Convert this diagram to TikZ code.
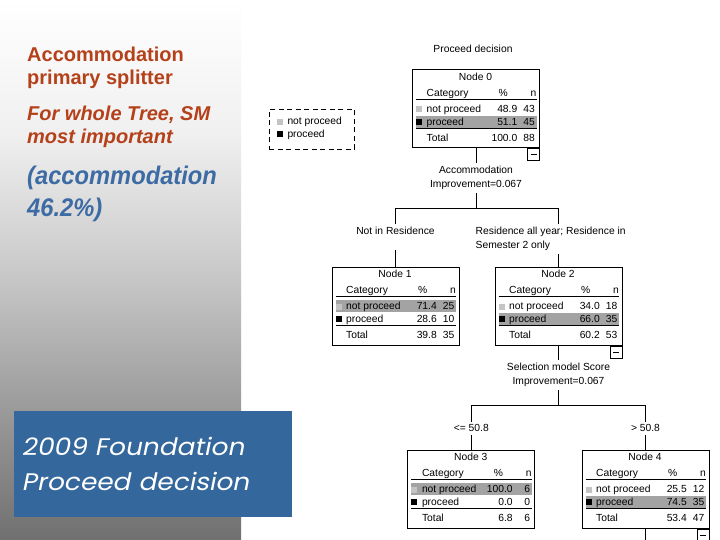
\documentclass[tikz,border=0pt]{standalone}
\usepackage{fontspec}
\setmainfont{Liberation Sans}
\newfontfamily\condsans[FakeStretch=0.93]{Liberation Sans}
\newfontfamily\gothic[FakeSlant=0.2, FakeStretch=1.1]{Poppins}
\usepackage{tikz}
\usetikzlibrary{calc,positioning}
\definecolor{SlideRust}{HTML}{B4411A}
\definecolor{SlideBlue}{HTML}{3D6BA3}
\definecolor{TitleBlue}{HTML}{34679B}
\definecolor{RowGray}{HTML}{A3A3A3}
\definecolor{KeyGray}{HTML}{C4C4C4}
\pgfdeclareverticalshading{panelfade}{100bp}{color(0bp)=(black!56); color(25bp)=(black!56); color(37.5bp)=(black!39); color(50bp)=(black!21); color(62.5bp)=(black!6); color(75bp)=(white); color(100bp)=(white)}
\newcommand{\treefont}{\fontsize{10.3}{14.3}\selectfont}
\tikzset{
  tree/box/.style={draw, line width=1pt, minimum width=127pt, minimum height=78pt, inner sep=0pt},
  tree/text/.style={font=\treefont, inner sep=0pt},
  tree/split/.style={tree/text, align=center, inner ysep=3pt, anchor=north},
  tree/branch/.style={tree/text, align=left, inner ysep=2.5pt},
  tree/line/.style={line width=0.9pt},
  tree/rule/.style={line width=0.8pt},
  tree/minus/.style={draw, line width=0.8pt, minimum width=12pt, minimum height=12pt, inner sep=0pt, anchor=north east,
    path picture={\draw[line width=0.8pt] ([xshift=3pt]path picture bounding box.west) -- ([xshift=-3pt]path picture bounding box.east);}},
  tree/key/.style={minimum size=6pt, inner sep=0pt},
  tree/legend/.style={draw, line width=1.1pt, dash pattern=on 5pt off 3.5pt, minimum width=85pt, minimum height=40pt, inner sep=0pt},
  slide/point/.style={anchor=north west, align=left, inner sep=0pt, text=SlideRust, font=\fontsize{20}{23}\selectfont\bfseries},
  slide/aside/.style={slide/point, font=\fontsize{20}{22.7}\selectfont\bfseries\itshape},
  slide/stat/.style={anchor=north west, align=left, inner sep=0pt, text=SlideBlue, font=\condsans\fontsize{25.5}{31.5}\selectfont\bfseries\itshape},
  slide/title/.style={fill=TitleBlue, text=white, anchor=north west, minimum width=278pt, minimum height=105.7pt,
    inner xsep=7.5pt, text width=263pt, align=left, font=\gothic\fontsize{24}{35}\selectfont}
}
% one tree node: name, centre, title, not proceed %/n, proceed %/n, total %/n
\newcommand{\catbox}[9]{%
  \node[tree/box] (#1) at (#2) {};
  \pgfmathsetmacro{\rowtop}{#4>50 ? 33 : 46.5}%
  \fill[RowGray] ($(#1.north west)+(4,\rowtop)$) rectangle ++(120.5,12.5);
  \node[tree/text, anchor=base] (#1 title) at ($(#1.north west)+(63.5,11)$) {#3};
  \node[tree/text, anchor=base west] (#1 cat) at ($(#1.north west)+(14.5,27)$) {Category};
  \node[tree/text, anchor=base east] (#1 pct) at ($(#1.north west)+(96,27)$) {\%};
  \node[tree/text, anchor=base east] (#1 n) at ($(#1.north west)+(124.5,27)$) {n};
  \draw[tree/rule] ($(#1.north west)+(4,30)$) -- ++(120.5,0);
  \node[tree/key, fill=KeyGray] (#1 np key) at ($(#1.north west)+(7,40)$) {};
  \node[tree/text, anchor=base west] (#1 np) at ($(#1.north west)+(14.5,43)$) {not proceed};
  \node[tree/text, anchor=base east] (#1 np pct) at ($(#1.north west)+(105.5,43)$) {#4};
  \node[tree/text, anchor=base east] (#1 np n) at ($(#1.north west)+(123,43)$) {#5};
  \node[tree/key, fill=black] (#1 p key) at ($(#1.north west)+(7,52.5)$) {};
  \node[tree/text, anchor=base west] (#1 p) at ($(#1.north west)+(14.5,56)$) {proceed};
  \node[tree/text, anchor=base east] (#1 p pct) at ($(#1.north west)+(105.5,56)$) {#6};
  \node[tree/text, anchor=base east] (#1 p n) at ($(#1.north west)+(123,56)$) {#7};
  \draw[tree/rule, line width=1.2pt] ($(#1.north west)+(4,59)$) -- ++(120.5,0);
  \node[tree/text, anchor=base west] (#1 tot) at ($(#1.north west)+(14.5,72)$) {Total};
  \node[tree/text, anchor=base east] (#1 tot pct) at ($(#1.north west)+(105.5,72)$) {#8};
  \node[tree/text, anchor=base east] (#1 tot n) at ($(#1.north west)+(123,72)$) {#9};
}

\begin{document}
\begin{tikzpicture}[x=1pt, y=-1pt]
  \useasboundingbox (0,0) rectangle (720,540);
  \fill[white] (0,0) rectangle (720,540);
  \shade[shading=panelfade] (0,0) rectangle (241,540);

  % slide text
  \node[slide/point] (splitter) at (27,46.5) {Accommodation\\primary splitter};
  \node[slide/aside] (whole) at (27,106) {For whole Tree, SM\\most important};
  \node[slide/stat] (share) at (27,166) {(accommodation\\46.2\%)};
  \node[slide/title] (title) at (14,411) {2009 Foundation\\Proceed decision};

  % legend
  \node[tree/legend] (legend) at (311.8,129.3) {};
  \node[tree/key, fill=KeyGray] (key np) at (280,122) {};
  \node[tree/text, anchor=base west] (key np label) at (287.3,125) {not proceed};
  \node[tree/key, fill=black] (key p) at (280,134.2) {};
  \node[tree/text, anchor=base west] (key p label) at (287.3,137.7) {proceed};

  % tree
  \node[tree/text, anchor=base] (tree title) at (473,52.7) {Proceed decision};
  \catbox{n0}{476,109}{Node 0}{48.9}{43}{51.1}{45}{100.0}{88}
  \catbox{n1}{395.5,306}{Node 1}{71.4}{25}{28.6}{10}{39.8}{35}
  \catbox{n2}{558.5,306}{Node 2}{34.0}{18}{66.0}{35}{60.2}{53}
  \catbox{n3}{471.3,489}{Node 3}{100.0}{6}{0.0}{0}{6.8}{6}
  \catbox{n4}{645.5,489}{Node 4}{25.5}{12}{74.5}{35}{53.4}{47}
  \node[tree/minus] (n0 minus) at (n0.south east) {};
  \node[tree/minus] (n2 minus) at (n2.south east) {};
  \node[tree/minus] (n4 minus) at (n4.south east) {};

  \node[tree/split] (sp0) at (476,163) {Accommodation\\Improvement=0.067};
  \coordinate (j0) at (476,208);
  \draw[tree/line] (n0) -- (sp0);
  \draw[tree/line] (sp0) -- (j0);
  \node[tree/branch, anchor=base, text depth=13pt] (l1) at (395.5,234.5) {Not in Residence};
  \node[tree/branch, anchor=north west] (l2) at (475.5,224.5) {Residence all year; Residence in\\Semester 2 only};
  \draw[tree/line] (l1) -- (n1 |- j0) -- (n2 |- j0) -- (n2 |- l2.north);
  \draw[tree/line] (l1) -- (n1);
  \draw[tree/line] (n2 |- l2.south) -- (n2);

  \node[tree/split] (sp1) at (558.5,360) {Selection model Score\\Improvement=0.067};
  \coordinate (j1) at (558.5,405);
  \draw[tree/line] (n2) -- (sp1);
  \draw[tree/line] (sp1) -- (j1);
  \node[tree/branch, anchor=base] (l3) at (471.3,431.7) {<= 50.8};
  \node[tree/branch, anchor=base] (l4) at (645.5,431.7) {> 50.8};
  \draw[tree/line] (l3) -- (n3 |- j1) -- (n4 |- j1) -- (l4);
  \draw[tree/line] (l3) -- (n3);
  \draw[tree/line] (l4) -- (n4);
  \coordinate (cut) at (645.5,540);
  \draw[tree/line] (n4) -- (cut);
\end{tikzpicture}
\end{document}
